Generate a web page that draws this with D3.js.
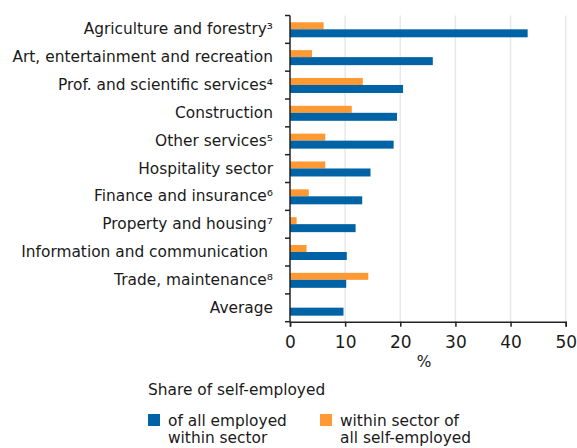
<!DOCTYPE html>
<html>
<head>
<meta charset="utf-8">
<script src="https://cdn.jsdelivr.net/npm/d3@7"></script>
<style>
  body { margin: 0; background: #fff; }
  text { font-family: "DejaVu Sans", sans-serif; fill: #1a1a1a; }
</style>
</head>
<body>
<script>
const sectors = [
  "Agriculture and forestry\u00b3",
  "Art, entertainment and recreation",
  "Prof. and scientific services\u2074",
  "Construction",
  "Other services\u2075",
  "Hospitality sector",
  "Finance and insurance\u2076",
  "Property and housing\u2077",
  "Information and communication\u00a0",
  "Trade, maintenance\u2078",
  "Average"
];
const ofAllEmployed = [43.1, 25.9, 20.5, 19.4, 18.8, 14.6, 13.1, 11.9, 10.3, 10.2, 9.7];
const ofAllSelfEmployed = [6.1, 4.0, 13.2, 11.2, 6.4, 6.4, 3.4, 1.2, 3.0, 14.2, null];
const xTicks = [0, 10, 20, 30, 40, 50];

const blue = "#0063a6", orange = "#ff9933";
const width = 577, height = 448;
const margin = {top: 15.5, left: 290, right: 11.3, bottom: 126.3};
const fs = "15.4px";

const svg = d3.select("body").append("svg")
  .attr("width", width).attr("height", height);

const x = d3.scaleLinear().domain([0, 50]).range([margin.left, width - margin.right]);
const y = d3.scaleBand().domain(sectors).range([margin.top, height - margin.bottom]);

// gridlines
svg.append("g").selectAll("line")
  .data(xTicks.slice(1))
  .join("line")
  .attr("x1", d => x(d)).attr("x2", d => x(d))
  .attr("y1", margin.top).attr("y2", height - margin.bottom)
  .attr("stroke", "#e8e8e8").attr("stroke-width", 1.5);

const rows = sectors.map((s, i) => ({s, a: ofAllEmployed[i], b: ofAllSelfEmployed[i]}));

svg.append("g").selectAll("rect")
  .data(rows.filter(d => d.b != null))
  .join("rect")
  .attr("x", x(0))
  .attr("y", d => y(d.s) + 6.8)
  .attr("width", d => x(d.b) - x(0))
  .attr("height", 7)
  .attr("fill", orange);

svg.append("g").selectAll("rect")
  .data(rows)
  .join("rect")
  .attr("x", x(0))
  .attr("y", d => y(d.s) + 13.8)
  .attr("width", d => x(d.a) - x(0))
  .attr("height", 8)
  .attr("fill", blue);

// y axis: ticks at band boundaries
const yAxis = svg.append("g");
yAxis.append("line")
  .attr("x1", x(0)).attr("x2", x(0))
  .attr("y1", margin.top).attr("y2", height - margin.bottom)
  .attr("stroke", "#222").attr("stroke-width", 1.5);
yAxis.selectAll("line.tk")
  .data(d3.range(sectors.length + 1))
  .join("line").attr("class", "tk")
  .attr("x1", x(0) - 5).attr("x2", x(0))
  .attr("y1", i => margin.top + i * y.step())
  .attr("y2", i => margin.top + i * y.step())
  .attr("stroke", "#222").attr("stroke-width", 1.5);
yAxis.selectAll("text")
  .data(sectors)
  .join("text")
  .attr("x", 273)
  .attr("y", d => y(d) + y.bandwidth() / 2 + 5)
  .attr("text-anchor", "end")
  .style("font-size", fs)
  .style("white-space", "pre")
  .text(d => d);

// x axis
const xAxis = svg.append("g")
  .attr("transform", `translate(0,${height - margin.bottom})`)
  .call(d3.axisBottom(x).tickValues(xTicks).tickSize(5).tickPadding(9));
xAxis.select(".domain").attr("stroke", "#222").attr("stroke-width", 1.5);
xAxis.selectAll(".tick line").attr("stroke", "#222").attr("stroke-width", 1.5);
xAxis.selectAll("text").style("font-size", "17px").attr("fill", "#1a1a1a")
  .style("font-family", "'DejaVu Sans', sans-serif");

svg.append("text")
  .attr("x", x(24.3)).attr("y", 367)
  .attr("text-anchor", "middle")
  .style("font-size", fs)
  .text("%");

// legend
const legend = svg.append("g");
legend.append("text").attr("x", 148).attr("y", 395)
  .style("font-size", fs).text("Share of self-employed");

const items = [
  {color: blue, lines: ["of all employed", "within sector"], x: 148},
  {color: orange, lines: ["within sector of", "all self-employed"], x: 320}
];
items.forEach(it => {
  legend.append("rect").attr("x", it.x).attr("y", 414)
    .attr("width", 12).attr("height", 12).attr("fill", it.color);
  it.lines.forEach((l, i) => {
    legend.append("text").attr("x", it.x + 20).attr("y", 425.5 + i * 17.5)
      .style("font-size", fs).text(l);
  });
});
</script>
</body>
</html>
